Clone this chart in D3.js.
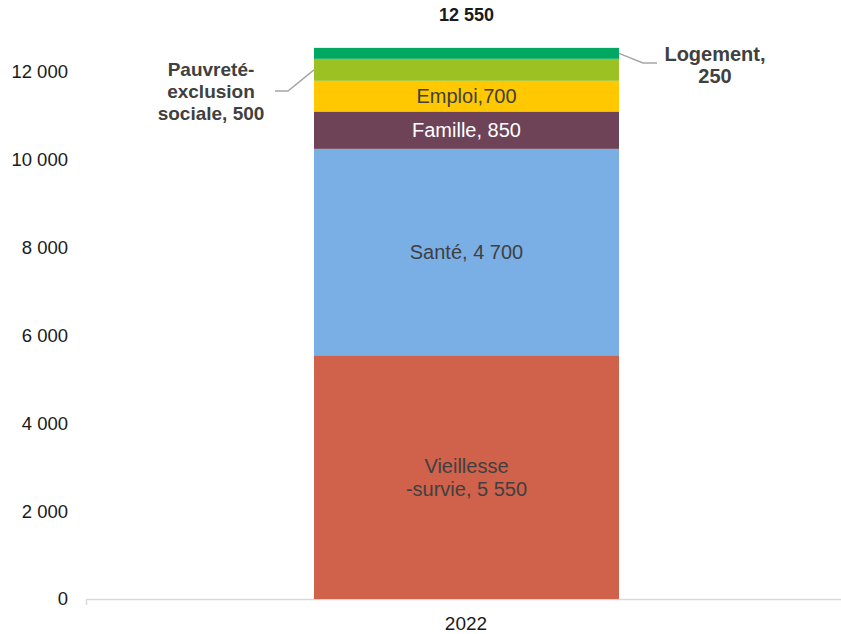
<!DOCTYPE html>
<html><head><meta charset="utf-8">
<script src="https://cdn.jsdelivr.net/npm/d3@7"></script>
<style>body{margin:0;background:#fff}svg{font-family:"Liberation Sans",Arial,sans-serif}</style>
</head><body><svg id="c" width="841" height="634"></svg>
<script>
const categories = ["2022"];
const seriesNames = ["Vieillesse-survie","Santé","Famille","Emploi","Pauvreté-exclusion sociale","Logement"];
const seriesValues = [5550, 4700, 850, 700, 500, 250];
const seriesColors = ["#D0614B","#7AAFE6","#6E4358","#FFC800","#9BC122","#00A862"];
const yTicks = [0,2000,4000,6000,8000,10000,12000];
const total = 12550;

const svg = d3.select("#c");
const y = d3.scaleLinear().domain([0,12000]).range([599,72]);
const fmt = v => d3.format(",")(v).replace(/,/g," ");

// axis line
svg.append("line").attr("x1",86).attr("x2",841).attr("y1",599.5).attr("y2",599.5).attr("stroke","#D9D9D9").attr("stroke-width",1.5);
svg.append("line").attr("x1",86.5).attr("x2",86.5).attr("y1",599).attr("y2",605).attr("stroke","#D9D9D9").attr("stroke-width",1.5);

// y labels
svg.selectAll(".yt").data(yTicks).enter().append("text")
  .attr("x",68).attr("y",d=>y(d)).attr("dy","0.35em").attr("text-anchor","end")
  .attr("font-size",18.5).attr("fill","#1a1a1a").text(fmt);

// x label
svg.append("text").attr("x",466).attr("y",630).attr("text-anchor","middle").attr("font-size",19).attr("fill","#1a1a1a").text(categories[0]);

// stacks
const bx = 314, bw = 305;
let cum = 0;
const segs = seriesValues.map((v,i)=>{const s={i,v,y0:cum,y1:cum+v};cum+=v;return s;});
svg.selectAll(".seg").data(segs).enter().append("rect")
  .attr("x",bx).attr("width",bw)
  .attr("y",d=>y(d.y1)).attr("height",d=>y(d.y0)-y(d.y1))
  .attr("fill",d=>seriesColors[d.i]);

const cx = bx + bw/2;
function inLabel(lines, s, color){
  const mid = (y(s.y0)+y(s.y1))/2;
  const lh = 23;
  const t = svg.append("text").attr("text-anchor","middle").attr("font-size",20).attr("fill",color);
  lines.forEach((l,k)=>{
    t.append("tspan").attr("x",cx).attr("y",mid + (k-(lines.length-1)/2)*lh).attr("dy","0.35em").text(l);
  });
}
inLabel(["Vieillesse","-survie, "+fmt(seriesValues[0])], segs[0], "#404040");
inLabel(["Santé, "+fmt(seriesValues[1])], segs[1], "#404040");
inLabel(["Famille, "+fmt(seriesValues[2])], segs[2], "#ffffff");
inLabel(["Emploi,"+fmt(seriesValues[3])], segs[3], "#404040");

// outer labels
function outLabel(lines, xc, yc, fs){
  const t = svg.append("text").attr("text-anchor","middle").attr("font-size",fs).attr("font-weight","bold").attr("fill","#404040");
  lines.forEach((l,k)=>{
    t.append("tspan").attr("x",xc).attr("y",yc+(k-(lines.length-1)/2)*22).attr("dy","0.35em").text(l);
  });
}
outLabel(["Pauvreté-","exclusion","sociale, "+fmt(seriesValues[4])], 211, 91, 19);
outLabel(["Logement,",fmt(seriesValues[5])], 715, 65, 20);

// leader lines
const pMid = (y(segs[4].y0)+y(segs[4].y1))/2;
svg.append("polyline").attr("points",`${bx},${pMid} 288,91 275,91`).attr("fill","none").attr("stroke","#A6A6A6").attr("stroke-width",1.5);
const lMid = (y(segs[5].y0)+y(segs[5].y1))/2;
svg.append("polyline").attr("points",`${bx+bw},${lMid} 643,63 657,63`).attr("fill","none").attr("stroke","#A6A6A6").attr("stroke-width",1.5);

// total
svg.append("text").attr("x",cx).attr("y",15).attr("dy","0.35em").attr("text-anchor","middle").attr("font-size",18).attr("font-weight","bold").attr("fill","#1a1a1a").text(fmt(total));
</script></body></html>
